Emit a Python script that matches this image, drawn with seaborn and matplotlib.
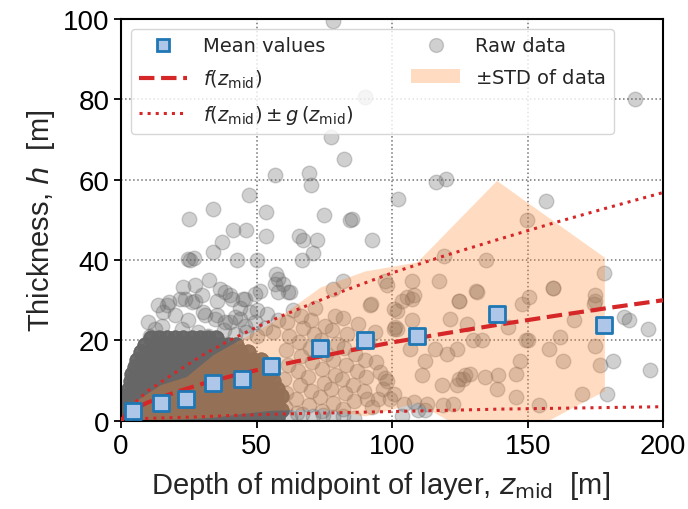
import numpy as np
import pandas as pd
import matplotlib
matplotlib.use("Agg")
import matplotlib.pyplot as plt
from matplotlib.lines import Line2D
from matplotlib.patches import Patch
import seaborn as sns

# ---------------- data ----------------
# binned mean values
bin_z = [4.3, 14.6, 24.0, 34.0, 44.5, 55.2, 73.5, 90.0, 109.1, 138.5, 178.3]
mean_h = [2.4, 4.4, 5.3, 9.4, 10.3, 13.6, 18.1, 20.1, 21.2, 26.6, 23.9]
# +/- STD band (upper and lower edge)
std_hi = [4.5, 9.0, 11.0, 16.5, 20.5, 24.4, 33.3, 37.3, 39.5, 59.8, 40.7]
std_lo = [0.0, 0.3, 0.5, 0.9, 1.8, 2.6, 3.0, 1.2, 4.5, -6.7, 7.5]

# fitted curves
curve_z = [0, 2, 5, 10, 20, 30, 40, 50, 60, 80, 100, 120, 140, 160, 180, 200]
f_mid = [0.0, 1.7, 3.0, 4.6, 7.1, 9.2, 11.0, 12.6, 14.1, 16.9, 19.5, 21.8, 24.0, 26.1, 28.1, 30.0]
f_plus = [0.0, 2.6, 4.5, 7.5, 12.0, 16.3, 20.0, 23.3, 26.3, 31.8, 36.8, 41.2, 45.3, 49.3, 53.1, 56.8]
f_minus = [0.0, 0.3, 0.4, 0.6, 0.8, 1.0, 1.3, 1.5, 1.7, 2.0, 2.3, 2.6, 2.9, 3.1, 3.3, 3.5]

# raw data: individually visible points
raw_z = [78.0, 90.0, 189.7, 77.5, 82.4, 56.6, 69.4, 70.2, 116.2, 119.9, 47.3, 102.2, 156.9,
         33.8, 53.4, 25.1, 74.7, 84.5, 85.2, 149.7, 41.3, 46.2, 53.4, 65.5, 67.2, 72.3, 92.4,
         37.3, 34.0, 70.8, 119.3, 134.7, 24.8, 25.4, 26.9, 42.9, 50.0, 66.8, 178.1, 57.3,
         58.0, 56.8, 59.9, 62.4, 32.3, 27.3, 22.8, 82.0, 97.4, 107.3, 117.2, 98.0, 78.3,
         159.3, 130.8, 36.5, 40.2, 45.1, 51.3, 21.8, 16.9, 15.6, 27.3, 35.3, 30.4, 35.3,
         40.2, 43.9, 47.6, 12.5, 10.7,
         13.8, 17.5, 23.6, 26.1, 29.8, 38.4, 40.8, 45.8, 49.4, 58.0, 61.7, 19.9, 24.8, 31.0,
         34.7, 38.4, 42.1, 45.8, 49.4, 10.1, 15.0, 28.5, 32.2, 22.4,
         150.3, 147.9, 124.7, 105.4, 107.3, 103.6, 107.9, 100.5, 174.9, 174.3, 185.4, 187.2,
         194.2, 195.2, 181.3, 179.2, 167.2, 107.3, 121.4, 127.6, 142.9, 100.5, 129.8, 133.1,
         149.4, 150.0, 157.7, 162.0, 174.9, 176.8, 163.0, 147.2, 115.9, 112.2, 120.2, 123.9,
         106.6, 111.0, 118.3, 124.5, 127.0, 128.8, 134.3, 138.9, 138.6, 145.8, 145.8, 154.0,
         170.0, 118.7, 122.6, 100.5, 97.4, 104.2, 107.9, 112.2, 103.6, 112.8, 109.7, 92.3,
         101.7, 124.5, 131.3, 101.1, 95.6, 98.0, 96.8, 94.9, 99.3, 90.7, 92.5, 91.9, 101.7,
         126.3, 123.9, 159.5, 174.9,
         43.3, 46.9, 52.4, 57.5, 62.4, 66.8, 70.8, 74.5, 78.2, 82.0, 86.0,
         60.5, 61.0, 60.2, 61.5, 60.8, 62.0, 61.2, 63.5,
         65.0, 64.5, 66.0, 65.2, 66.5, 65.8, 67.0, 66.3,
         69.5, 70.0, 69.0, 70.5, 69.8, 71.0, 70.2, 71.5,
         74.0, 73.5, 75.0, 74.2, 75.5, 73.8, 75.2,
         78.0, 77.5, 79.0, 78.2, 79.5, 77.8, 79.0,
         82.0, 82.5, 81.5, 83.0, 82.2, 83.5, 81.8,
         86.0, 85.5, 87.0, 86.2, 87.5,
         89.5, 90.5, 89.8, 91.0,
         94.0, 93.5,
         38.0, 42.0, 46.0, 50.0, 53.0, 56.0, 58.0, 54.0, 50.0, 44.0]
raw_h = [99.5, 80.5, 80.1, 70.5, 65.2, 61.2, 61.7, 58.7, 59.4, 60.2, 56.1, 55.1, 54.7,
         52.6, 51.9, 50.1, 51.1, 50.0, 50.3, 50.0, 47.5, 47.5, 45.9, 46.1, 45.0, 45.0, 45.0,
         44.6, 41.9, 41.7, 41.1, 40.0, 40.2, 40.0, 40.5, 39.9, 39.9, 39.9, 36.7, 36.6,
         35.3, 34.1, 34.1, 32.0, 35.0, 33.8, 33.4, 34.9, 34.9, 34.9, 34.9, 33.7, 32.8,
         33.0, 32.3, 32.8, 31.2, 30.4, 32.4, 30.4, 28.7, 27.0, 29.9, 29.9, 27.0, 26.2,
         24.6, 25.4, 27.0, 22.9, 21.2,
         28.7, 29.5, 30.4, 29.5, 31.2, 32.0, 30.4, 30.4, 31.6, 32.0, 32.0, 26.2, 25.0, 26.2,
         25.4, 24.6, 25.8, 23.7, 24.6, 24.6, 23.7, 22.1, 21.2, 22.9,
         30.9, 29.1, 29.9, 30.8, 30.4, 29.9, 31.2, 27.9, 29.9, 29.1, 25.8, 25.0,
         22.9, 12.7, 14.9, 6.7, 25.0, 25.0, 25.2, 24.1, 23.3, 22.9, 20.0, 20.0,
         20.0, 20.2, 17.9, 20.8, 18.7, 13.8, 14.8, 14.8, 17.9, 14.8, 16.7, 17.9,
         17.9, 11.5, 8.8, 10.4, 11.3, 11.7, 11.0, 11.3, 8.0, 11.7, 5.9, 3.8,
         6.7, 3.8, 4.2, 6.7, 10.7, 4.2, 4.6, 2.6, 1.3, 4.2, 2.6, 29.1,
         27.4, 29.9, 32.0, 23.3, 12.1, 10.0, 8.0, 5.5, 5.5, 5.5, 3.4, 28.7, 22.9,
         10.4, 8.8, 33.0, 31.2,
         1.5, 1.8, 1.2, 1.5, 1.0, 1.8, 1.2, 1.5, 1.0, 1.3, 0.8,
         3.5, 7.0, 10.5, 14.0, 17.5, 21.0, 24.5, 27.5,
         2.0, 5.5, 9.0, 12.5, 16.0, 19.5, 23.0, 26.0,
         4.0, 7.5, 11.0, 14.5, 18.0, 21.5, 25.0, 28.0,
         2.5, 6.0, 9.5, 13.0, 16.5, 20.0, 23.5,
         4.5, 8.0, 11.5, 15.0, 19.0, 22.5, 26.0,
         3.0, 7.0, 10.5, 14.0, 18.0, 21.5, 25.5,
         5.0, 9.0, 12.5, 16.5, 24.0,
         7.5, 11.0, 15.0, 19.5,
         14.5, 22.0,
         22.5, 21.5, 22.0, 21.0, 23.0, 22.0, 25.0, 26.5, 27.5, 28.0]

# raw data: saturated dense cloud at shallow depth (rows of thickness levels)
core_h_levels = [0.8, 2.6, 4.4, 6.2, 8.0, 9.8, 11.6, 13.4, 15.2, 17.0, 18.8, 20.6]
core_z_rows = [
    [0.5, 3.5, 6.5, 9.5, 12.5, 15.5, 18.5, 21.5, 24.5, 27.5, 30.5, 33.5, 36.5, 39.5, 42.5, 45.5, 48.5, 51.5, 54.5, 57.5],
    [1.0, 2.0, 5.0, 8.0, 11.0, 14.0, 17.0, 20.0, 23.0, 26.0, 29.0, 32.0, 35.0, 38.0, 41.0, 44.0, 47.0, 50.0, 53.0, 56.0, 59.0],
    [1.5, 3.5, 6.5, 9.5, 12.5, 15.5, 18.5, 21.5, 24.5, 27.5, 30.5, 33.5, 36.5, 39.5, 42.5, 45.5, 48.5, 51.5, 54.5, 57.5],
    [2.0, 5.0, 8.0, 11.0, 14.0, 17.0, 20.0, 23.0, 26.0, 29.0, 32.0, 35.0, 38.0, 41.0, 44.0, 47.0, 50.0, 53.0, 56.0, 59.0],
    [2.8, 6.5, 9.5, 12.5, 15.5, 18.5, 21.5, 24.5, 27.5, 30.5, 33.5, 36.5, 39.5, 42.5, 45.5, 48.5, 51.5, 54.5, 57.5],
    [3.5, 5.0, 8.0, 11.0, 14.0, 17.0, 20.0, 23.0, 26.0, 29.0, 32.0, 35.0, 38.0, 41.0, 44.0, 47.0, 50.0, 53.0, 56.0],
    [4.2, 6.5, 9.5, 12.5, 15.5, 18.5, 21.5, 24.5, 27.5, 30.5, 33.5, 36.5, 39.5, 42.5, 45.5, 48.5, 51.5, 54.5],
    [5.0, 8.0, 11.0, 14.0, 17.0, 20.0, 23.0, 26.0, 29.0, 32.0, 35.0, 38.0, 41.0, 44.0, 47.0, 50.0, 53.0],
    [6.0, 9.5, 12.5, 15.5, 18.5, 21.5, 24.5, 27.5, 30.5, 33.5, 36.5, 39.5, 42.5, 45.5, 48.5, 51.5],
    [7.5, 11.0, 14.0, 17.0, 20.0, 23.0, 26.0, 29.0, 32.0, 35.0, 38.0, 41.0, 44.0, 47.0],
    [9.0, 12.5, 15.5, 18.5, 21.5, 24.5, 27.5, 30.5, 33.5, 36.5, 39.5, 42.5],
    [11.0, 14.0, 17.0, 20.0, 23.0, 26.0, 29.0, 32.0, 35.0],
]
core_records_per_spot = 8

# ---------------- assemble ----------------
core_z = [z for row in core_z_rows for z in row]
core_h = [h for h, row in zip(core_h_levels, core_z_rows) for _ in row]
all_z = list(raw_z) + core_z * core_records_per_spot
all_h = list(raw_h) + core_h * core_records_per_spot
raw_df = pd.DataFrame({"z": all_z, "h": all_h})
mean_df = pd.DataFrame({"z": bin_z, "h": mean_h})
curve_df = pd.DataFrame({"z": curve_z, "f": f_mid, "fp": f_plus, "fm": f_minus})

# ---------------- style ----------------
sns.set_style("ticks")
plt.rcParams["font.family"] = ["Liberation Sans", "DejaVu Sans"]
plt.rcParams["mathtext.fontset"] = "dejavusans"

raw_color = (0.4, 0.4, 0.4)
band_color = (1.0, 0.55, 0.2)
red = "#d62728"

fig = plt.figure(figsize=(6.88, 5.10), dpi=100)
ax = fig.add_axes([0.176, 0.173, 0.788, 0.788])

sns.scatterplot(data=raw_df, x="z", y="h", ax=ax, color=raw_color, alpha=0.3,
                s=110, edgecolor=raw_color, linewidth=1.0, zorder=1, legend=False)
ax.fill_between(bin_z, std_lo, std_hi, color=band_color, alpha=0.3, lw=0, zorder=2)
sns.lineplot(data=curve_df, x="z", y="fp", ax=ax, color=red, lw=2.2, ls=":", zorder=3,
             sort=False, estimator=None)
sns.lineplot(data=curve_df, x="z", y="fm", ax=ax, color=red, lw=2.2, ls=":", zorder=3,
             sort=False, estimator=None)
sns.lineplot(data=curve_df, x="z", y="f", ax=ax, color=red, lw=3.0, ls="--", zorder=4,
             sort=False, estimator=None)
sns.scatterplot(data=mean_df, x="z", y="h", ax=ax, marker="s", s=120, color="#aec7e8",
                edgecolor="#1f77b4", linewidth=2.0, zorder=5, legend=False)

ax.set_xlim(0, 200)
ax.set_ylim(0, 100)
ax.set_xticks([0, 50, 100, 150, 200])
ax.set_yticks([0, 20, 40, 60, 80, 100])
ax.grid(True, ls=":", color="0.45", lw=1.1)
ax.set_axisbelow(True)
for sp in ax.spines.values():
    sp.set_linewidth(1.5)
    sp.set_color("black")
ax.tick_params(direction="out", length=5, width=1.3, labelsize=20, colors="black")

ax.set_xlabel(r"Depth of midpoint of layer, $z_{\mathrm{mid}}$  [m]", fontsize=21)
ax.set_ylabel(r"Thickness, $h$  [m]", fontsize=21)
ax.xaxis.set_label_coords(0.478, -0.12)

handles = [
    Line2D([], [], marker="s", ls="none", mfc="#aec7e8", mec="#1f77b4", ms=9, mew=2),
    Line2D([], [], color=red, lw=3.0, ls="--"),
    Line2D([], [], color=red, lw=2.2, ls=":"),
    Line2D([], [], marker="o", ls="none", mfc=raw_color, mec=raw_color, ms=10, mew=1, alpha=0.3),
    Patch(facecolor=band_color, alpha=0.3, lw=0),
]
labels = ["Mean values", r"$f(z_{\mathrm{mid}})$",
          r"$f(z_{\mathrm{mid}}) \pm g\,(z_{\mathrm{mid}})$",
          "Raw data", r"$\pm$STD of data"]
leg = ax.legend(handles, labels, ncol=2, loc="upper left",
                prop={"family": "DejaVu Sans", "size": 14},
                handlelength=2.5, columnspacing=3.0, labelspacing=0.65,
                borderaxespad=0.5, framealpha=0.8, edgecolor="0.8")

fig.savefig("out.png", dpi=100)
